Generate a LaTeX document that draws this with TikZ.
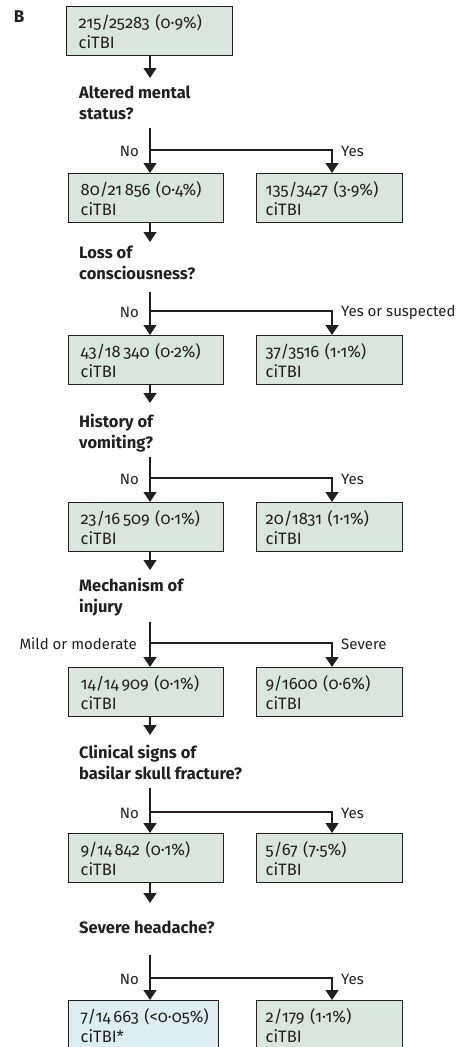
\documentclass[tikz,border=0pt]{standalone}
\usepackage{fontspec}
\setmainfont{Fira Sans}[Numbers=OldStyle]
\usetikzlibrary{arrows.meta}
\definecolor{boxfill}{HTML}{D8E6DE}
\definecolor{boxblue}{HTML}{DDEEF3}
\definecolor{ink}{HTML}{231F20}
\begin{document}
\begin{tikzpicture}[x=1pt,y=-1pt,
  every node/.style={text=ink, font=\fontsize{16.5}{20}\selectfont},
  box/.style={draw=ink, line width=1.4pt, fill=boxfill, anchor=north west,
    minimum height=49pt, inner xsep=12pt, inner ysep=0pt, align=left, text width=#1},
  rbox/.style={box=#1, inner xsep=9pt},
  q/.style={anchor=north west, font=\fontsize{16.5}{21}\selectfont\bfseries, align=left, inner sep=0pt},
  lab/.style={inner sep=0pt, font=\fontsize{15}{18}\selectfont},
  arr/.style={draw=ink, line width=1.3pt, -{Triangle[width=13pt,length=10pt]}},
  ln/.style={draw=ink, line width=1.3pt}]
\useasboundingbox (0,0) rectangle (456,1047);
\clip (0,0) rectangle (456,1047);

\node[font=\fontsize{17}{17}\selectfont\bfseries, inner sep=0pt] (lblB) at (19,17) {B};

% level 0
\node[box=142pt] (b0) at (66,6) {215/25283~(0·9\%)\\ciTBI};
\coordinate (t0) at (150,78);
\draw[arr] (b0.south -| t0) -- (t0);
\node[q] (q1) at (79,86) {Altered mental\\status?};
\coordinate (s1) at (150,128);
\coordinate (h1) at (150,150);
\coordinate (r1) at (332,150);
\node[lab, anchor=east] (n1) at (139,151) {No};
\node[lab, anchor=west] (y1) at (341,151) {Yes};

% level 1
\node[box=131pt] (b1L) at (68,173) {80/21\,856~(0·4\%)\\ciTBI};
\node[rbox=128pt] (b1R) at (256,173) {135/3427~(3·9\%)\\ciTBI};
\draw[arr] (s1) -- (b1L.north -| s1);
\draw[arr] (h1) -| (b1R.north -| r1);
\coordinate (t1) at (150,242);
\draw[arr] (b1L.south -| t1) -- (t1);
\node[q] (q2) at (79,246) {Loss of\\consciousness?};
\coordinate (s2) at (150,292);
\coordinate (h2) at (150,311);
\coordinate (r2) at (332,311);
\node[lab, anchor=east] (n2) at (139,312) {No};
\node[lab, anchor=west] (y2) at (341,312) {Yes or suspected};

% level 2
\node[box=131pt] (b2L) at (68,335) {43/18\,340~(0·2\%)\\ciTBI};
\node[rbox=128pt] (b2R) at (256,335) {37/3516~(1·1\%)\\ciTBI};
\draw[arr] (s2) -- (b2L.north -| s2);
\draw[arr] (h2) -| (b2R.north -| r2);
\coordinate (t2) at (150,403);
\draw[arr] (b2L.south -| t2) -- (t2);
\node[q] (q3) at (79,414) {History of\\vomiting?};
\coordinate (s3) at (150,457);
\coordinate (h3) at (150,478);
\coordinate (r3) at (332,478);
\node[lab, anchor=east] (n3) at (139,479) {No};
\node[lab, anchor=west] (y3) at (341,479) {Yes};

% level 3
\node[box=131pt] (b3L) at (68,502) {23/16\,509~(0·1\%)\\ciTBI};
\node[rbox=128pt] (b3R) at (256,502) {20/1831~(1·1\%)\\ciTBI};
\draw[arr] (s3) -- (b3L.north -| s3);
\draw[arr] (h3) -| (b3R.north -| r3);
\coordinate (t3) at (150,570);
\draw[arr] (b3L.south -| t3) -- (t3);
\node[q] (q4) at (79,578) {Mechanism of\\injury};
\coordinate (s4) at (150,622);
\coordinate (h4) at (150,643);
\coordinate (r4) at (332,643);
\node[lab, anchor=east] (n4) at (137,644) {Mild or moderate};
\node[lab, anchor=west] (y4) at (341,644) {Severe};

% level 4
\node[box=131pt] (b4L) at (68,667) {14/14\,909~(0·1\%)\\ciTBI};
\node[rbox=128pt] (b4R) at (256,667) {9/1600~(0·6\%)\\ciTBI};
\draw[arr] (s4) -- (b4L.north -| s4);
\draw[arr] (h4) -| (b4R.north -| r4);
\coordinate (t4) at (150,735);
\draw[arr] (b4L.south -| t4) -- (t4);
\node[q] (q5) at (79,745) {Clinical signs of\\basilar skull fracture?};
\coordinate (s5) at (150,788);
\coordinate (h5) at (150,812);
\coordinate (r5) at (332,812);
\node[lab, anchor=east] (n5) at (139,813) {No};
\node[lab, anchor=west] (y5) at (341,813) {Yes};

% level 5
\node[box=131pt] (b5L) at (68,833) {9/14\,842~(0·1\%)\\ciTBI};
\node[rbox=128pt] (b5R) at (256,833) {5/67~(7·5\%)\\ciTBI};
\draw[arr] (s5) -- (b5L.north -| s5);
\draw[arr] (h5) -| (b5R.north -| r5);
\coordinate (t5) at (150,903);
\draw[arr] (b5L.south -| t5) -- (t5);
\node[q] (q6) at (79,921) {Severe headache?};
\coordinate (s6) at (150,955);
\coordinate (h6) at (150,978);
\coordinate (r6) at (332,978);
\node[lab, anchor=east] (n6) at (139,979) {No};
\node[lab, anchor=west] (y6) at (341,979) {Yes};

% level 6
\node[box=126pt, fill=boxblue] (b6L) at (68,1000) {7/14\,663~(<0·05\%)\\ciTBI*};
\node[rbox=128pt] (b6R) at (256,1000) {2/179~(1·1\%)\\ciTBI};
\draw[arr] (s6) -- (b6L.north -| s6);
\draw[arr] (h6) -| (b6R.north -| r6);
\end{tikzpicture}
\end{document}
